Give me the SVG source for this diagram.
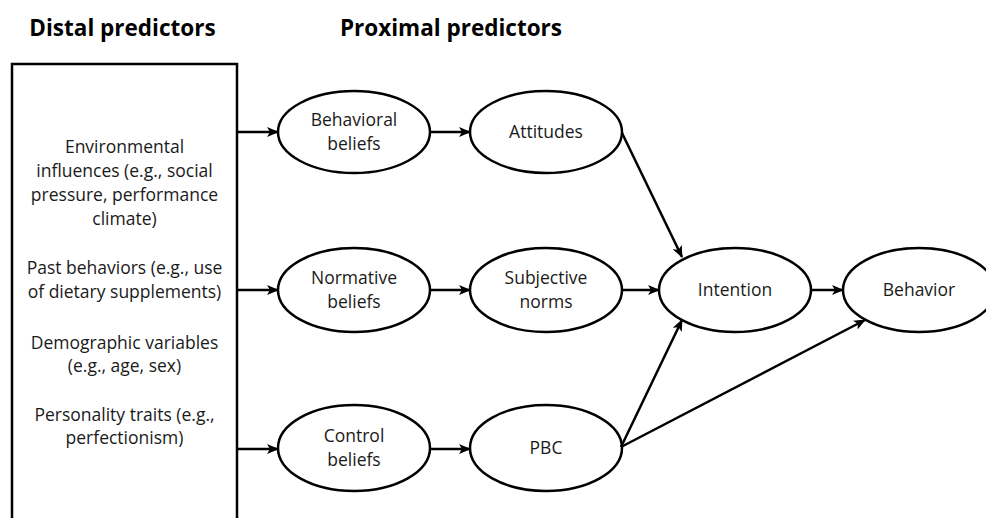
<svg xmlns="http://www.w3.org/2000/svg" width="986" height="518" viewBox="0 0 986 518">
<defs>
<marker id="ah" viewBox="0 0 12 10" refX="11" refY="5" markerWidth="12" markerHeight="10" markerUnits="userSpaceOnUse" orient="auto">
<path d="M0,0 L12,5 L0,10 L3,5 Z" fill="#000"/>
</marker>
<style>
.node{fill:#fff;stroke:#000;stroke-width:2.5}
.lbl{font-family:"Open Sans","Liberation Sans",sans-serif;font-size:17.5px;fill:#1a1a1a;text-anchor:middle}
.hd{font-family:"Open Sans","Liberation Sans",sans-serif;font-size:22.5px;font-weight:bold;fill:#000;text-anchor:middle}
.edge{stroke:#000;stroke-width:2.5;fill:none;marker-end:url(#ah)}
</style>
</defs>
<rect width="986" height="518" fill="#fff"/>
<text class="hd" x="122.5" y="36">Distal predictors</text>
<text class="hd" x="451" y="36">Proximal predictors</text>
<g id="distal">
<rect class="node" x="12" y="64" width="225" height="470"/>
<text class="lbl" x="124.5" y="153">Environmental</text>
<text class="lbl" x="124.5" y="177">influences (e.g., social</text>
<text class="lbl" x="124.5" y="201">pressure, performance</text>
<text class="lbl" x="124.5" y="225">climate)</text>
<text class="lbl" x="124.5" y="274">Past behaviors (e.g., use</text>
<text class="lbl" x="124.5" y="298">of dietary supplements)</text>
<text class="lbl" x="124.5" y="349">Demographic variables</text>
<text class="lbl" x="124.5" y="372">(e.g., age, sex)</text>
<text class="lbl" x="124.5" y="421">Personality traits (e.g.,</text>
<text class="lbl" x="124.5" y="444">perfectionism)</text>
</g>
<g id="behavioral-beliefs">
<ellipse class="node" cx="354" cy="132" rx="76" ry="41"/>
<text class="lbl" x="354" y="126">Behavioral</text>
<text class="lbl" x="354" y="150">beliefs</text>
</g>
<g id="attitudes">
<ellipse class="node" cx="546" cy="132" rx="76" ry="41"/>
<text class="lbl" x="546" y="138">Attitudes</text>
</g>
<g id="normative-beliefs">
<ellipse class="node" cx="354" cy="290" rx="76" ry="42"/>
<text class="lbl" x="354" y="284">Normative</text>
<text class="lbl" x="354" y="308">beliefs</text>
</g>
<g id="subjective-norms">
<ellipse class="node" cx="546" cy="290" rx="76" ry="42"/>
<text class="lbl" x="546" y="284">Subjective</text>
<text class="lbl" x="546" y="308">norms</text>
</g>
<g id="control-beliefs">
<ellipse class="node" cx="354" cy="448" rx="76" ry="43"/>
<text class="lbl" x="354" y="442">Control</text>
<text class="lbl" x="354" y="466">beliefs</text>
</g>
<g id="pbc">
<ellipse class="node" cx="546" cy="448" rx="76" ry="43"/>
<text class="lbl" x="546" y="454">PBC</text>
</g>
<g id="intention">
<ellipse class="node" cx="735" cy="290" rx="76" ry="42"/>
<text class="lbl" x="735" y="296">Intention</text>
</g>
<g id="behavior">
<ellipse class="node" cx="919" cy="290" rx="76" ry="42"/>
<text class="lbl" x="919" y="296">Behavior</text>
</g>
<g id="connectors">
<line class="edge" x1="237" y1="132" x2="278" y2="132"/>
<line class="edge" x1="237" y1="290" x2="278" y2="290"/>
<line class="edge" x1="237" y1="449" x2="278" y2="449"/>
<line class="edge" x1="430" y1="132" x2="470" y2="132"/>
<line class="edge" x1="430" y1="290" x2="470" y2="290"/>
<line class="edge" x1="430" y1="449" x2="470" y2="449"/>
<line class="edge" x1="622" y1="133" x2="682" y2="257"/>
<line class="edge" x1="622" y1="290" x2="659" y2="290"/>
<line class="edge" x1="621" y1="447" x2="682" y2="320"/>
<line class="edge" x1="621" y1="447" x2="865" y2="320"/>
<line class="edge" x1="811" y1="290" x2="843" y2="290"/>
</g>
</svg>
